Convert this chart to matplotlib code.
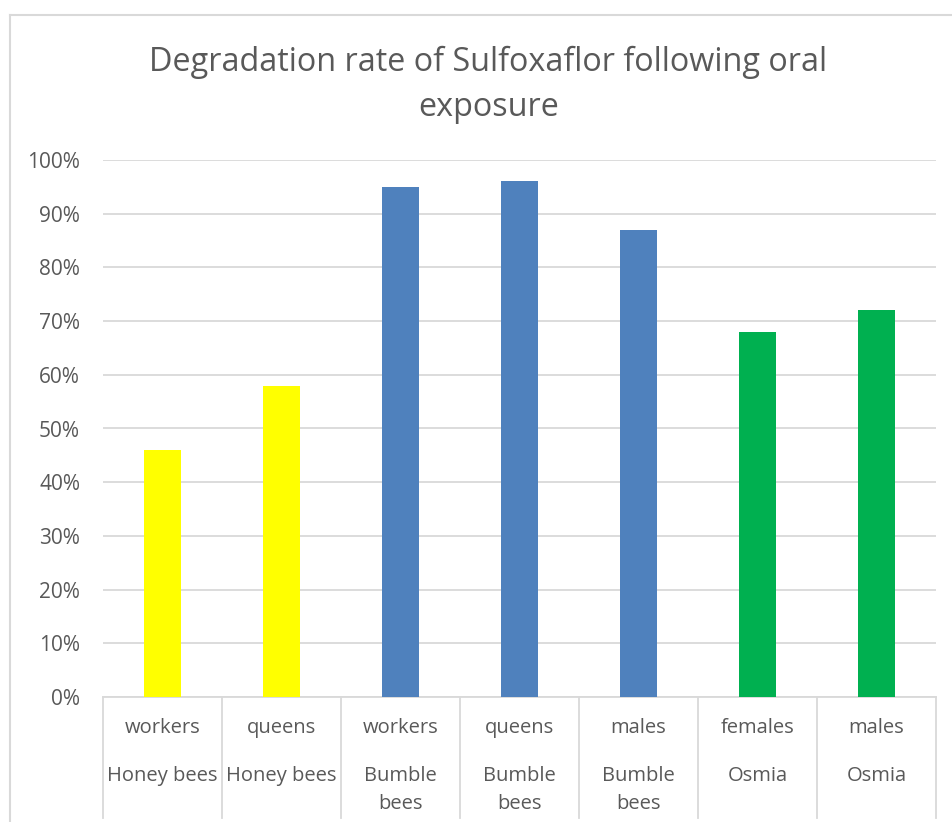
import matplotlib.pyplot as plt
from matplotlib.lines import Line2D

roles = ["workers", "queens", "workers", "queens", "males", "females", "males"]
groups = ["Honey bees", "Honey bees", "Bumble\nbees", "Bumble\nbees", "Bumble\nbees", "Osmia", "Osmia"]
rates = [46, 58, 95, 96, 87, 68, 72]
colors = ["#ffff00", "#ffff00", "#4f81bd", "#4f81bd", "#4f81bd", "#00b050", "#00b050"]
yticks = [0, 10, 20, 30, 40, 50, 60, 70, 80, 90, 100]

plt.rcParams['font.family'] = ['Open Sans', 'DejaVu Sans']
txt = "#595959"
grid = "#d9d9d9"

fig = plt.figure(figsize=(9.52, 8.22), dpi=100)
ax = fig.add_axes([103/952, 1-697/822, 833/952, 537/822])

x = list(range(len(rates)))
ax.bar(x, rates, width=0.31, color=colors, zorder=3)
ax.set_xlim(-0.5, len(rates)-0.5)
ax.set_ylim(0, 100)
ax.set_yticks(yticks)
ax.set_yticklabels([f"{t}%" for t in yticks], color=txt, fontsize=15)
ax.tick_params(axis='y', length=0, pad=16.5)
ax.set_xticks([])
ax.yaxis.grid(True, color=grid, linewidth=1.3, zorder=0)
for s in ["top", "right", "left"]:
    ax.spines[s].set_visible(False)
ax.spines["bottom"].set_color(grid)
ax.spines["bottom"].set_linewidth(1.3)

# category separators and two-level labels
for b in range(len(rates)+1):
    ax.add_line(Line2D([b-0.5, b-0.5], [0, -121/537], transform=ax.get_xaxis_transform(),
                       color=grid, linewidth=1.3, clip_on=False))
for i in x:
    ax.text(i, -31/537, roles[i], transform=ax.get_xaxis_transform(), ha="center", va="center",
            color=txt, fontsize=14.5)
    ax.text(i, -69/537, groups[i], transform=ax.get_xaxis_transform(), ha="center", va="top",
            color=txt, fontsize=14.5, linespacing=1.5)

fig.text(0.513, 1-62/822, "Degradation rate of Sulfoxaflor following oral", ha="center", va="center",
         color=txt, fontsize=23.3)
fig.text(0.513, 1-107/822, "exposure", ha="center", va="center", color=txt, fontsize=23.3)

# outer chart frame
fig.add_artist(Line2D([9.5/952, 9.5/952], [0, 1-15.5/822], transform=fig.transFigure, color=grid, linewidth=1.5))
fig.add_artist(Line2D([9.5/952, 1], [1-15.5/822, 1-15.5/822], transform=fig.transFigure, color=grid, linewidth=1.5))

fig.savefig("out.png", dpi=100)
